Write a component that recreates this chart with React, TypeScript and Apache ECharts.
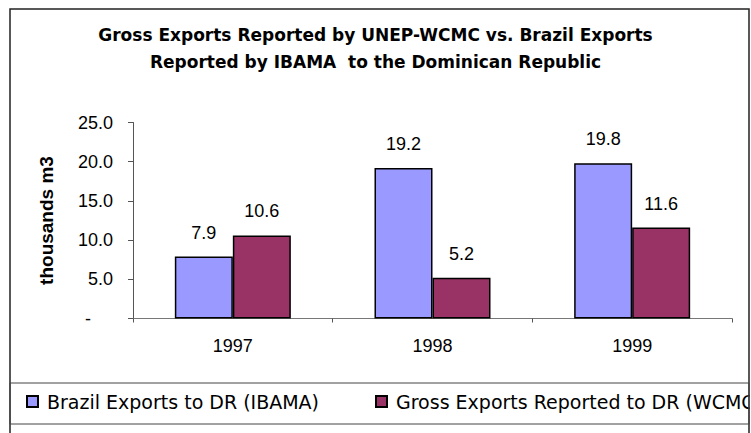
import React, { useEffect, useRef } from 'react';
import * as echarts from 'echarts';

const titleLines = [
  'Gross Exports Reported by UNEP-WCMC vs. Brazil Exports',
  'Reported by IBAMA  to the Dominican Republic',
];
const categories = ['1997', '1998', '1999'];
const ibamaValues = [7.9, 19.2, 19.8];
const wcmcValues = [10.6, 5.2, 11.6];
const seriesNames = ['Brazil Exports to DR (IBAMA)', 'Gross Exports Reported to DR (WCMC)'];
const yAxisName = 'thousands m3';
const yMin = 0;
const yMax = 25;
const yInterval = 5;

const NUM_FONT = 'Liberation Sans, Arial, sans-serif';

export default function App() {
  const ref = useRef<HTMLDivElement>(null);

  useEffect(() => {
    if (!ref.current) return;
    const chart = echarts.init(ref.current, null, { renderer: 'svg' });
    const labelStyle = {
      show: true,
      position: 'top' as const,
      distance: 15,
      color: '#000',
      fontFamily: NUM_FONT,
      fontSize: 18,
      formatter: (p: any) => Number(p.value).toFixed(1),
    };
    const legendText = { fontFamily: 'DejaVu Sans, sans-serif', fontSize: 19, color: '#000', padding: [0, 0, 0, 4] };
    chart.setOption({
      animation: false,
      backgroundColor: '#fff',
      title: {
        text: titleLines.join('\n'),
        left: 'center',
        top: 21,
        padding: 0,
        textStyle: {
          fontFamily: 'DejaVu Sans, sans-serif',
          fontWeight: 'bold',
          fontSize: 17,
          lineHeight: 27,
          color: '#000',
        },
      },
      legend: [
        {
          data: [seriesNames[0]],
          left: 26,
          top: 392,
          padding: 0,
          itemWidth: 11,
          itemHeight: 11,
          icon: 'rect',
          textStyle: legendText,
        },
        {
          data: [seriesNames[1]],
          left: 375,
          top: 392,
          padding: 0,
          itemWidth: 11,
          itemHeight: 11,
          icon: 'rect',
          textStyle: legendText,
        },
      ],
      grid: { left: 133, right: 19, top: 122.5, bottom: 114.5, containLabel: false },
      xAxis: {
        type: 'category',
        data: categories,
        axisLine: { lineStyle: { color: '#777', width: 1 } },
        axisTick: { show: true, length: 4, lineStyle: { color: '#555' } },
        axisLabel: { margin: 18, color: '#000', fontFamily: NUM_FONT, fontSize: 18 },
        splitLine: { show: false },
      },
      yAxis: {
        type: 'value',
        min: yMin,
        max: yMax,
        interval: yInterval,
        name: yAxisName,
        nameLocation: 'middle',
        nameRotate: 90,
        nameGap: 77,
        nameTextStyle: { fontFamily: NUM_FONT, fontWeight: 'bold', fontSize: 19, color: '#000' },
        axisLine: { show: true, lineStyle: { color: '#555', width: 1 } },
        axisTick: { show: true, length: 5, lineStyle: { color: '#555' } },
        splitLine: { show: false },
        axisLabel: {
          margin: 20,
          color: '#000',
          fontFamily: NUM_FONT,
          fontSize: 18,
          formatter: (v: number) => (v === 0 ? '{d|-}' : v.toFixed(1)),
          rich: { d: { fontFamily: NUM_FONT, fontSize: 18, color: '#000', padding: [0, 22, 0, 0] } },
        },
      },
      series: [
        {
          name: seriesNames[0],
          type: 'bar',
          data: ibamaValues,
          barWidth: 58,
          barGap: '0%',
          itemStyle: { color: '#9999FF', borderColor: '#000', borderWidth: 1.5 },
          label: labelStyle,
        },
        {
          name: seriesNames[1],
          type: 'bar',
          data: wcmcValues,
          barWidth: 58,
          barGap: '0%',
          itemStyle: { color: '#993366', borderColor: '#000', borderWidth: 1.5 },
          label: labelStyle,
        },
      ],
      graphic: [
        {
          type: 'rect',
          z: 100,
          silent: true,
          shape: { x: 749.8, y: 0, width: 5, height: 433 },
          style: { fill: '#fff', stroke: null },
        },
        {
          type: 'rect',
          z: 101,
          silent: true,
          shape: { x: 10, y: 9, width: 739, height: 440 },
          style: { fill: 'none', stroke: '#222', lineWidth: 1.5 },
        },
        {
          type: 'rect',
          z: 101,
          silent: true,
          shape: { x: 10, y: 383, width: 739, height: 41 },
          style: { fill: 'none', stroke: '#444', lineWidth: 1 },
        },
      ],
    });
    return () => chart.dispose();
  }, []);

  return (
    <div
      ref={ref}
      style={{ position: 'absolute', left: 0, top: 0, width: 751, height: 433 }}
    />
  );
}
